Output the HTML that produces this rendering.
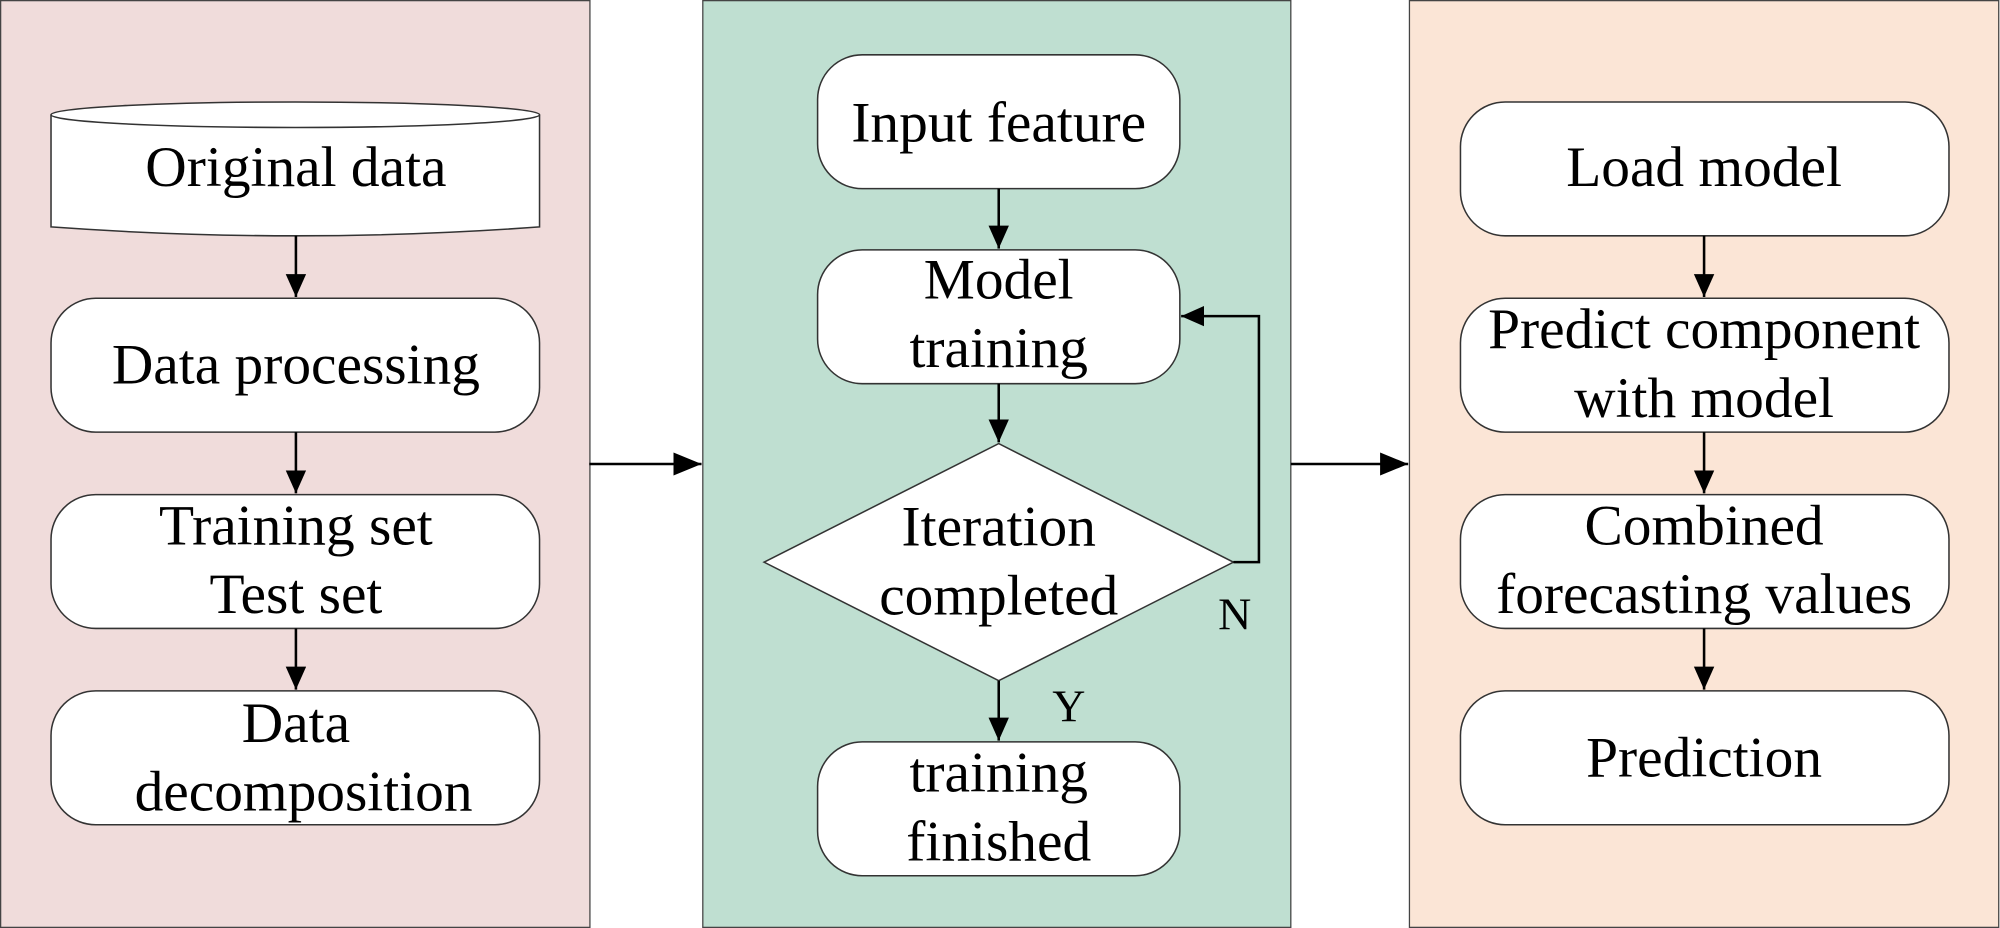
<!DOCTYPE html>
<html><head><meta charset="utf-8"><style>html,body{margin:0;padding:0;background:#fff}svg{display:block}</style></head>
<body>
<svg width="2000" height="928" viewBox="0 0 1568 728" preserveAspectRatio="none" xmlns="http://www.w3.org/2000/svg">
<defs><marker id="a" markerWidth="16" markerHeight="20" refX="18" refY="8" orient="auto" markerUnits="userSpaceOnUse"><path d="M0,0 L18,8 L0,16 Z" fill="#000"/></marker>
<marker id="b" markerWidth="24" markerHeight="20" refX="22" refY="9" orient="auto" markerUnits="userSpaceOnUse"><path d="M0,0 L22,9 L0,18 Z" fill="#000"/></marker></defs>
<g stroke="#444" stroke-width="1">
<rect x="0.5" y="0.5" width="462" height="727" fill="#f0dcdb"/>
<rect x="551" y="0.5" width="461" height="727" fill="#bfdfd1"/>
<rect x="1105" y="0.5" width="462" height="727" fill="#fbe5d6"/>
</g>
<g stroke="#333" stroke-width="1.2" fill="#fff">
<path d="M40,90 A191.5,10 0 0 1 423,90 L423,178 Q232,192 40,178 Z"/>
<path d="M40,90 A191.5,10 0 0 0 423,90" fill="none"/>
<rect x="40" y="234" width="383" height="105" rx="35"/>
<rect x="40" y="388" width="383" height="105" rx="35"/>
<rect x="40" y="542" width="383" height="105" rx="35"/>
<rect x="641" y="43" width="284" height="105" rx="35"/>
<rect x="641" y="196" width="284" height="105" rx="35"/>
<polygon points="599,441 783,348 967,441 783,534"/>
<rect x="641" y="582" width="284" height="105" rx="35"/>
<rect x="1145" y="80" width="383" height="105" rx="35"/>
<rect x="1145" y="234" width="383" height="105" rx="35"/>
<rect x="1145" y="388" width="383" height="105" rx="35"/>
<rect x="1145" y="542" width="383" height="105" rx="35"/>
</g>
<g stroke="#000" stroke-width="2" fill="none" marker-end="url(#a)">
<line x1="232" y1="185" x2="232" y2="233"/>
<line x1="232" y1="339" x2="232" y2="387"/>
<line x1="232" y1="493" x2="232" y2="541"/>
<line x1="783" y1="148" x2="783" y2="195"/>
<line x1="783" y1="301" x2="783" y2="347"/>
<line x1="783" y1="534" x2="783" y2="581"/>
<polyline points="967,441 987,441 987,248 926,248"/>
<line x1="1336" y1="185" x2="1336" y2="233"/>
<line x1="1336" y1="339" x2="1336" y2="387"/>
<line x1="1336" y1="493" x2="1336" y2="541"/>
</g>
<g stroke="#000" stroke-width="2" marker-end="url(#b)">
<line x1="462" y1="364" x2="550" y2="364"/>
<line x1="1012" y1="364" x2="1104" y2="364"/>
</g>
<g font-family="Liberation Serif, serif" font-size="45" text-anchor="middle" fill="#000">
<text x="232" y="146">Original data</text>
<text x="232" y="301">Data processing</text>
<text x="232" y="427">Training set</text>
<text x="232" y="481">Test set</text>
<text x="232" y="582">Data</text>
<text x="238" y="636">decomposition</text>
<text x="783" y="111">Input feature</text>
<text x="783" y="234">Model</text>
<text x="783" y="288">training</text>
<text x="783" y="428">Iteration</text>
<text x="783" y="482">completed</text>
<text x="783" y="621">training</text>
<text x="783" y="675">finished</text>
<text x="1336" y="146">Load model</text>
<text x="1336" y="273">Predict component</text>
<text x="1336" y="327">with model</text>
<text x="1336" y="427">Combined</text>
<text x="1336" y="481">forecasting values</text>
<text x="1336" y="609">Prediction</text>
<text x="968" y="494" font-size="36">N</text>
<text x="838" y="566" font-size="36">Y</text>
</g>
</svg>
</body></html>
